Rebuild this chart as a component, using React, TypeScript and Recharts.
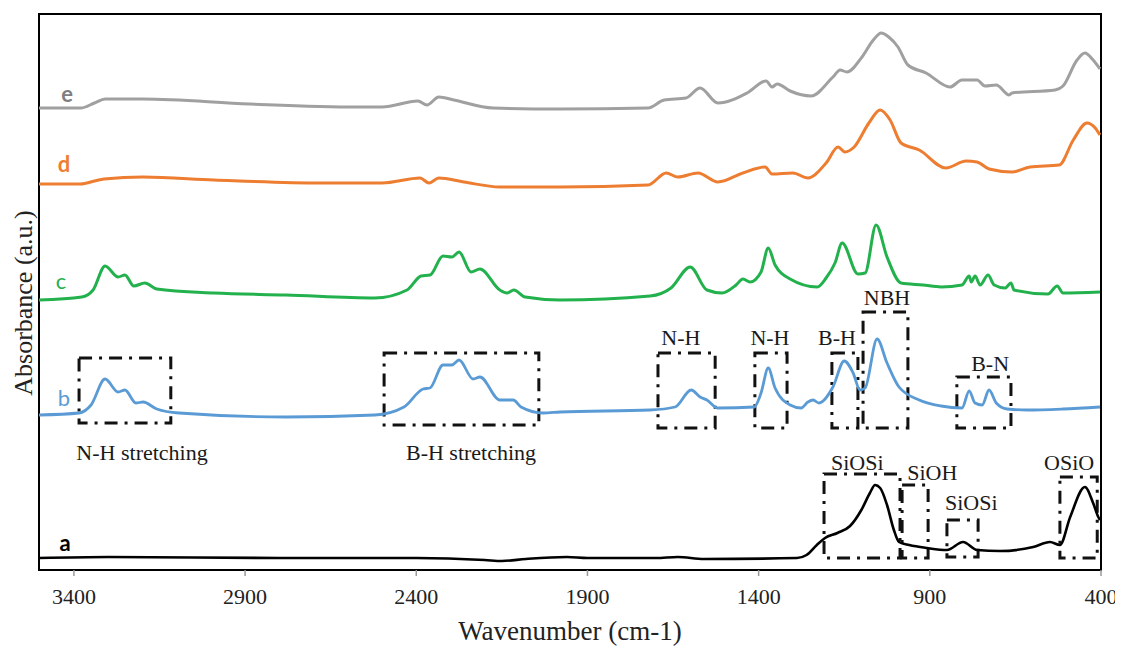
import React from 'react';
import { LineChart, Line, XAxis, YAxis, ReferenceArea, ReferenceDot } from 'recharts';

// x ticks (wavenumber, cm-1)
const xTicks = [3400, 2900, 2400, 1900, 1400, 900, 400];

// [wavenumber, absorbance (a.u., stacked offsets)]
const seriesE: [number, number][] = [
  [3502, 4.62], [3380, 4.62], [3340, 4.67], [3309, 4.71], [3198, 4.71], [2886, 4.66], [2573, 4.63], [2500, 4.63],
  [2395, 4.69], [2369, 4.65], [2334, 4.73], [2290, 4.7], [2176, 4.62], [1980, 4.61], [1723, 4.62],
  [1676, 4.7], [1612, 4.72], [1571, 4.82], [1519, 4.67], [1434, 4.77], [1378, 4.89], [1361, 4.83],
  [1346, 4.86], [1308, 4.79], [1247, 4.74], [1183, 4.93], [1162, 5.0], [1142, 4.98], [1098, 5.13],
  [1065, 5.3], [1042, 5.37], [1020, 5.33], [993, 5.23], [964, 5.05], [911, 4.97], [841, 4.83],
  [806, 4.9], [762, 4.9], [739, 4.84], [706, 4.85], [668, 4.75], [660, 4.77], [534, 4.8], [511, 4.84],
  [470, 5.1], [447, 5.17], [423, 5.1], [403, 5.01],
];

const seriesD: [number, number][] = [
  [3502, 3.86], [3380, 3.86], [3340, 3.89], [3312, 3.91], [3198, 3.93], [2991, 3.9], [2678, 3.87], [2500, 3.87],
  [2389, 3.92], [2363, 3.87], [2334, 3.92], [2261, 3.88], [2156, 3.83], [1980, 3.83], [1723, 3.85],
  [1670, 3.97], [1636, 3.93], [1577, 3.97], [1519, 3.88], [1446, 3.97], [1381, 4.03], [1361, 3.96],
  [1300, 3.97], [1256, 3.92], [1203, 4.07], [1168, 4.23], [1148, 4.18], [1121, 4.23], [1078, 4.47],
  [1045, 4.6], [1016, 4.5], [984, 4.27], [931, 4.2], [853, 4.02], [794, 4.09], [762, 4.08], [727, 4.01],
  [660, 3.98], [607, 4.03], [522, 4.05], [481, 4.3], [441, 4.47], [417, 4.42], [403, 4.35],
];

const seriesC: [number, number][] = [
  [3502, 2.7], [3377, 2.73], [3344, 2.8], [3309, 3.04], [3271, 2.93], [3251, 2.95], [3225, 2.84],
  [3193, 2.87], [3158, 2.81], [2991, 2.77], [2781, 2.75], [2521, 2.72], [2427, 2.8], [2386, 2.94],
  [2360, 2.95], [2322, 3.14], [2296, 3.13], [2275, 3.18], [2240, 2.98], [2214, 3.01], [2156, 2.8],
  [2135, 2.77], [2115, 2.8], [2082, 2.73], [1980, 2.7], [1717, 2.74], [1656, 2.82], [1600, 3.03],
  [1551, 2.8], [1507, 2.77], [1466, 2.85], [1446, 2.91], [1425, 2.88], [1393, 2.98], [1372, 3.22],
  [1352, 3.05], [1308, 2.91], [1229, 2.83], [1203, 2.92], [1177, 3.07], [1156, 3.27], [1110, 2.96],
  [1089, 2.97], [1057, 3.45], [1025, 3.13], [984, 2.87], [920, 2.85], [867, 2.83], [806, 2.85],
  [785, 2.94], [779, 2.88], [768, 2.94], [753, 2.85], [730, 2.95], [712, 2.85], [680, 2.82],
  [663, 2.87], [654, 2.8], [555, 2.76], [528, 2.84], [511, 2.77], [403, 2.78],
];

const seriesB: [number, number][] = [
  [3502, 1.55], [3385, 1.57], [3350, 1.65], [3309, 1.91], [3271, 1.78], [3251, 1.8], [3219, 1.67],
  [3198, 1.68], [3158, 1.61], [3093, 1.57], [2781, 1.53], [2521, 1.55], [2436, 1.63], [2380, 1.81],
  [2360, 1.82], [2322, 2.05], [2296, 2.05], [2275, 2.1], [2234, 1.91], [2214, 1.93], [2156, 1.7],
  [2117, 1.7], [2094, 1.63], [2030, 1.57], [1980, 1.58], [1717, 1.6], [1644, 1.63], [1597, 1.8],
  [1571, 1.73], [1551, 1.7], [1519, 1.62], [1413, 1.63], [1393, 1.77], [1372, 2.02], [1352, 1.82],
  [1308, 1.65], [1276, 1.62], [1256, 1.68], [1241, 1.7], [1224, 1.67], [1183, 1.83], [1150, 2.09],
  [1124, 1.97], [1104, 1.8], [1089, 1.82], [1054, 2.31], [1025, 2.07], [990, 1.83], [931, 1.7],
  [867, 1.64], [806, 1.62], [785, 1.79], [768, 1.67], [747, 1.65], [727, 1.8], [706, 1.67],
  [674, 1.61], [616, 1.6], [511, 1.61], [403, 1.63],
];

const seriesA: [number, number][] = [
  [3502, 0.12], [3300, 0.13], [2800, 0.12], [2400, 0.12], [2200, 0.1], [2150, 0.09], [2080, 0.11],
  [1960, 0.13], [1900, 0.12], [1700, 0.12], [1636, 0.13], [1560, 0.11], [1288, 0.12], [1260, 0.15],
  [1230, 0.25], [1206, 0.32], [1170, 0.37], [1133, 0.44], [1100, 0.6], [1075, 0.77], [1060, 0.85],
  [1045, 0.82], [1025, 0.65], [1005, 0.4], [990, 0.28], [960, 0.25], [908, 0.22], [850, 0.2],
  [803, 0.28], [762, 0.2], [695, 0.19], [598, 0.23], [549, 0.28], [520, 0.25], [490, 0.53],
  [447, 0.83], [423, 0.67], [408, 0.53], [403, 0.5],
];

// curve letters: [name, wavenumber, absorbance]
const curveLabels: [string, number, number][] = [
  ['e', 3420, 4.76], ['d', 3429, 4.06], ['c', 3438, 2.89], ['b', 3429, 1.72], ['a', 3426, 0.27],
];

// band annotation boxes: [x1, x2, y1, y2]
const bandBoxes: [number, number, number, number][] = [
  [3385, 3117, 1.47, 2.12],
  [2494, 2042, 1.45, 2.17],
  [1694, 1527, 1.42, 2.17],
  [1411, 1317, 1.42, 2.17],
  [1186, 1110, 1.42, 2.17],
  [1095, 964, 1.42, 2.58],
  [821, 663, 1.42, 1.93],
  [1209, 987, 0.12, 0.96],
  [981, 905, 0.12, 0.85],
  [850, 759, 0.13, 0.5],
  [520, 411, 0.12, 0.93],
];

// band annotation texts: [text, wavenumber, absorbance]
const bandLabels: [string, number, number][] = [
  ['N-H stretching', 3201, 1.18],
  ['B-H stretching', 2240, 1.18],
  ['N-H', 1627, 2.33],
  ['N-H', 1367, 2.33],
  ['B-H', 1171, 2.33],
  ['NBH', 1025, 2.73],
  ['B-N', 724, 2.07],
  ['SiOSi', 1112, 1.08],
  ['SiOH', 893, 0.98],
  ['SiOSi', 779, 0.68],
  ['OSiO', 493, 1.08],
];

const toPts = (s: [number, number][]) => s.map(([w, v]) => ({ w, v }));

const series = [
  { key: 'e', color: '#a0a0a0', labelColor: '#7f7f7f', bold: true, width: 3, data: seriesE },
  { key: 'd', color: '#ed7d31', labelColor: '#ed7d31', bold: true, width: 3, data: seriesD },
  { key: 'c', color: '#22b14c', labelColor: '#22b14c', bold: false, width: 3, data: seriesC },
  { key: 'b', color: '#5b9bd5', labelColor: '#5b9bd5', bold: false, width: 2.8, data: seriesB },
  { key: 'a', color: '#000000', labelColor: '#000000', bold: true, width: 2.6, data: seriesA },
];

const SERIF = '"Liberation Serif", "Times New Roman", serif';
const SANS = 'Lato, "Open Sans", sans-serif';

const renderYLabel = (props: any) => {
  const vb = props.viewBox || { x: 0, y: 0, width: 31, height: 556 };
  const cx = vb.x + vb.width / 2;
  const cy = vb.y + vb.height / 2 + 11;
  return (
    <text
      x={cx}
      y={cy}
      transform={`rotate(-90 ${cx} ${cy})`}
      textAnchor="middle"
      dominantBaseline="central"
      fontFamily={SERIF}
      fontSize={26}
      fill="#222"
    >
      Absorbance (a.u.)
    </text>
  );
};

export default function App() {
  return (
    <div style={{ width: 1115, height: 640 }}>
      <LineChart width={1115} height={640} margin={{ top: 6, right: 22, left: 0, bottom: 0 }}>
        <XAxis
          type="number"
          dataKey="w"
          domain={[400, 3502]}
          reversed
          allowDataOverflow
          ticks={xTicks}
          interval={0}
          height={78}
          tickSize={6}
          tickMargin={12}
          axisLine={{ stroke: '#000', strokeWidth: 2 }}
          tickLine={{ stroke: '#999', strokeWidth: 1.5 }}
          tick={{ fontFamily: SERIF, fontSize: 22, fill: '#222' }}
          label={{
            value: 'Wavenumber (cm-1)',
            position: 'insideBottom',
            offset: 8,
            fontFamily: SERIF,
            fontSize: 27,
            fill: '#222',
          }}
        />
        <YAxis
          type="number"
          dataKey="v"
          domain={[0, 5.56]}
          allowDataOverflow
          width={31}
          tick={false}
          tickLine={false}
          axisLine={false}
          label={renderYLabel}
        />
        {series.map((s) => (
          <Line
            key={s.key}
            data={toPts(s.data)}
            dataKey="v"
            type="monotone"
            stroke={s.color}
            strokeWidth={s.width}
            dot={false}
            activeDot={false}
            isAnimationActive={false}
          />
        ))}
        {bandBoxes.map(([x1, x2, y1, y2], i) => (
          <ReferenceArea
            key={'box' + i}
            x1={x1}
            x2={x2}
            y1={y1}
            y2={y2}
            fill="none"
            fillOpacity={0}
            stroke="#111"
            strokeWidth={3}
            strokeDasharray="13 7 3 7"
          />
        ))}
        {bandLabels.map(([t, w, v], i) => (
          <ReferenceDot
            key={'bl' + i}
            x={w}
            y={v}
            r={1}
            fill="none"
            stroke="none"
            label={{ value: t, position: 'center', fontFamily: SERIF, fontSize: 22, fill: '#1a1a1a' }}
          />
        ))}
        {series.map((s) => {
          const lab = curveLabels.find((c) => c[0] === s.key)!;
          return (
            <ReferenceDot
              key={'cl' + s.key}
              x={lab[1]}
              y={lab[2]}
              r={1}
              fill="none"
              stroke="none"
              label={{
                value: lab[0],
                position: 'center',
                fontFamily: SANS,
                fontSize: 22,
                fontWeight: s.bold ? 700 : 400,
                fill: s.labelColor,
              }}
            />
          );
        })}
        <ReferenceArea x1={3502} x2={400} y1={0} y2={5.56} fill="none" fillOpacity={0} stroke="#000" strokeWidth={2} />
      </LineChart>
    </div>
  );
}
